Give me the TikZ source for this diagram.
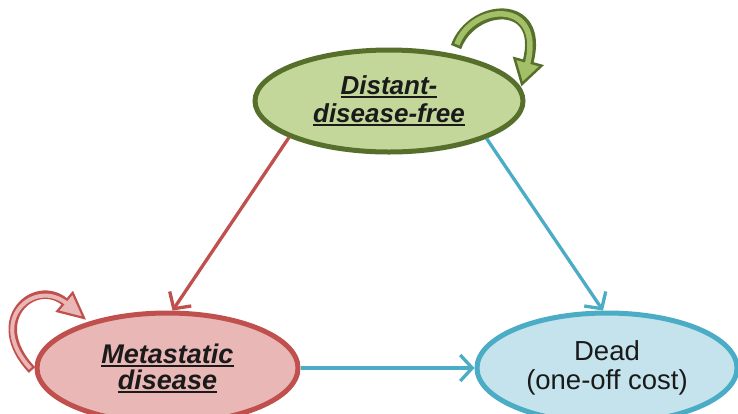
\documentclass[tikz,border=0pt]{standalone}
\usepackage{fontspec}
\setmainfont{Liberation Sans}
\usetikzlibrary{shapes.geometric,arrows.meta}
\definecolor{gOut}{HTML}{56702C}
\definecolor{gFill}{HTML}{C4D79B}
\definecolor{gLoop}{HTML}{A3BF67}
\definecolor{rOut}{HTML}{C0504D}
\definecolor{rFill}{HTML}{E8B7B6}
\definecolor{bOut}{HTML}{4BACC6}
\definecolor{bFill}{HTML}{C4E3EC}
\definecolor{txt}{HTML}{1A1A1A}
\newcommand\ulbox[1]{\setbox0\hbox{#1}\rlap{\rule[-3.5pt]{\wd0}{2pt}}\box0}
\newcommand\bi[1]{\ulbox{\textbf{\textit{#1}}}}
\begin{document}
\begin{tikzpicture}[x=1pt,y=-1pt,
  statebox/.style={ellipse, line width=5pt, align=center, text=txt,
    font=\fontsize{26}{28}\selectfont, inner sep=0pt},
  link/.style={line width=3.3pt, -{Straight Barb[length=12pt,width=26pt]}},
]
\useasboundingbox (0,0) rectangle (738,413);
\fill[white] (0,0) rectangle (738,413);

% states
\node[statebox, draw=gOut, fill=gFill, minimum width=268pt, minimum height=102pt]
  (dfree) at (389,101) {\bi{Distant-}\\\bi{disease-free}};
\node[statebox, draw=rOut, fill=rFill, minimum width=261pt, minimum height=110pt,
  font=\fontsize{27}{26}\selectfont]
  (meta) at (167.5,368) {\bi{Metastatic}\\\bi{disease}};
\node[statebox, draw=bOut, fill=bFill, minimum width=260pt, minimum height=110pt,
  font=\fontsize{27.5}{29}\selectfont]
  (dead) at (607,368) {Dead\\(one-off cost)};

% transitions
\draw[link, rOut] (dfree.200.7) -- (meta.85);
\draw[link, bOut] (dfree.339.3) -- (dead.94);
\draw[link, bOut] (meta.0) -- (dead.180);

% green self loop (block arrow)
\coordinate (g0) at (456,47);
\coordinate (g1) at (472,3);
\coordinate (g2) at (545,-2);
\coordinate (g3) at (528,62);
\draw[gOut, line width=11pt] (g0) .. controls (g1) and (g2) .. (g3);
\filldraw[gOut, fill=gLoop, line width=2.5pt, line join=miter]
  (541.5,65.7) -- (522,84) -- (514.5,58.3) -- cycle;
\draw[gLoop, line width=5.5pt, shorten <=2.7pt, shorten >=-3pt] (g0) .. controls (g1) and (g2) .. (g3);

% red self loop (block arrow)
\coordinate (r0) at (32,370);
\coordinate (r1) at (-15,320);
\coordinate (r2) at (35,277);
\coordinate (r3) at (65,302);
\draw[rOut, line width=8.5pt] (r0) .. controls (r1) and (r2) .. (r3);
\filldraw[rOut, fill=rFill, line width=2.2pt, line join=miter]
  (57.3,311.2) -- (84,318) -- (72.7,292.8) -- cycle;
\draw[rFill, line width=4pt, shorten <=2.3pt, shorten >=-3pt] (r0) .. controls (r1) and (r2) .. (r3);
\end{tikzpicture}
\end{document}
